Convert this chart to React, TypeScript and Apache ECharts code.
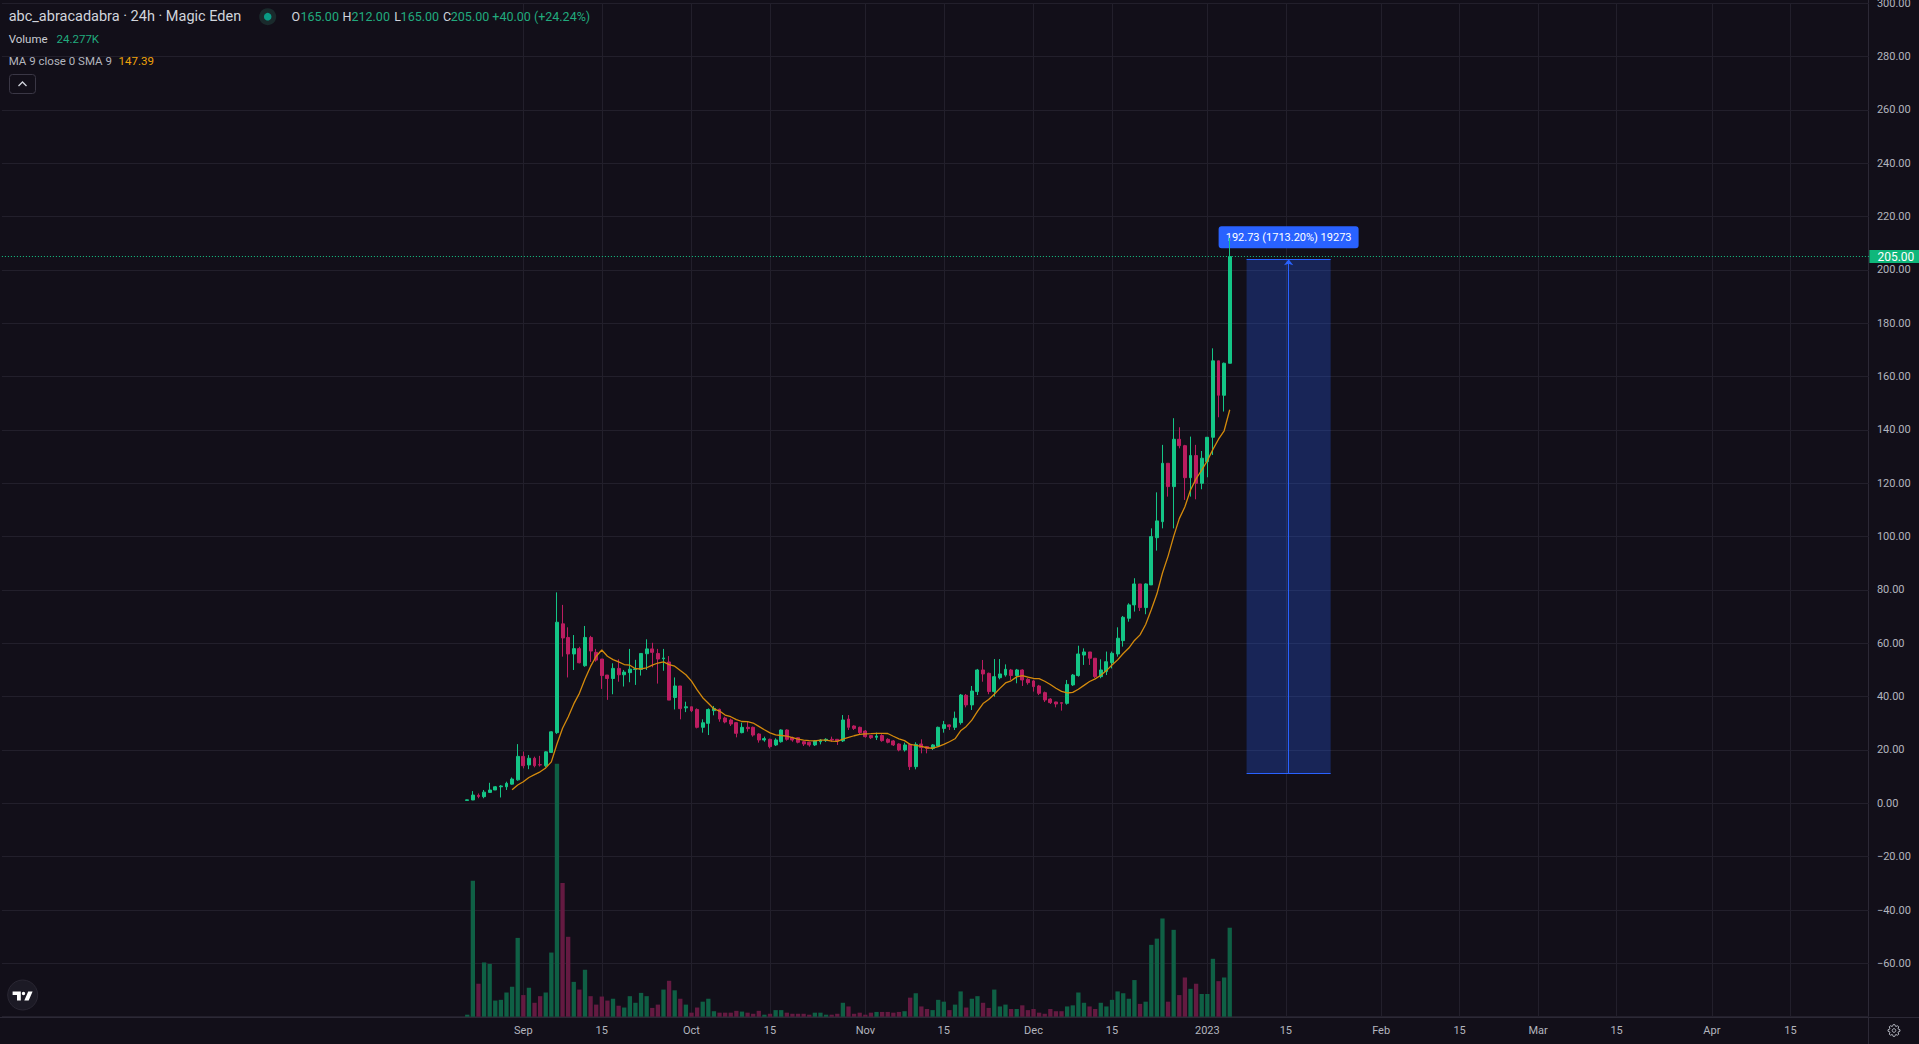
import React, { useEffect, useRef } from "react";
import * as echarts from "echarts";

// ---------- DATA ----------
const firstCandleDate = "2022-08-22";
const axisFirstDate = "2022-05-31";
const axisLastDate = "2023-04-29";

const opens = [
  1.1, 1.25, 3.0, 2.5, 4.1, 5.0, 6.2, 6.2, 7.2, 8.8,
  17.6, 14.4, 16.9, 14.5, 14.1, 19.1, 26.5, 67.3, 62.2, 56.0,
  58.0, 51.6, 62.2, 56.6, 54.1, 48.1, 46.8, 50.6, 48.2, 49.0,
  50.2, 50.2, 56.1, 57.9, 56.2, 54.2, 53.0, 39.7, 44.0, 35.8,
  36.2, 35.2, 28.5, 30.0, 34.75, 35.25, 32.0, 31.25, 30.25, 26.5,
  28.5, 28.5, 26.0, 23.75, 24.0, 21.9, 23.1, 27.5, 24.6, 24.6,
  23.1, 22.9, 21.9, 23.1, 23.5, 24.0, 24.0, 23.4, 31.6, 29.0, 28.5,
  27.1, 25.4, 24.75, 25.4, 24.0, 23.4, 22.25, 20.0, 22.1, 13.75,
  22.25, 21.25, 20.6, 21.5, 28.1, 29.4, 28.5, 30.25, 40.5, 36.9,
  41.9, 50.0, 48.75, 41.9, 47.1, 48.1, 50.0, 47.9, 50.0, 46.5,
  45.9, 44.0, 41.5, 39.1, 38.0, 37.75, 37.5, 44.4, 47.9, 55.6,
  56.75, 54.4, 47.5, 49.4, 52.75, 56.0, 61.0, 69.4, 74.4, 82.25,
  73.4, 81.9, 99.6, 105.6, 127.5, 118.75, 136.5, 134.1, 122.1, 130.4, 120.0,
  128.1, 137.25, 165.9, 153.0, 165.0,
];
const highs = [
  1.4, 4.6, 3.7, 5.0, 7.7, 6.5, 6.8, 8.1, 9.7, 22.2,
  19.4, 18.1, 17.5, 17.8, 19.5, 27.0, 79.1, 74.4, 66.0, 63.1,
  58.7, 66.5, 62.8, 57.9, 54.1, 48.1, 52.5, 54.0, 50.0, 57.9,
  53.8, 56.2, 61.5, 60.2, 57.9, 57.9, 55.2, 47.2, 44.0, 38.1,
  36.2, 35.6, 31.5, 35.6, 36.5, 35.5, 32.5, 31.75, 30.5, 30.25,
  30.6, 28.75, 26.25, 25.0, 24.25, 24.4, 27.75, 27.75, 25.0, 24.75,
  23.4, 23.1, 23.75, 24.1, 24.4, 25.0, 24.1, 33.1, 33.1, 29.25, 28.75,
  27.5, 25.6, 26.5, 25.9, 24.4, 23.75, 22.5, 22.75, 22.5, 22.9,
  24.0, 21.5, 22.25, 28.75, 30.9, 29.6, 34.4, 41.0, 41.0, 44.0,
  50.4, 53.75, 49.0, 54.1, 54.1, 52.1, 50.4, 50.4, 50.25, 46.9,
  46.25, 44.4, 41.9, 39.4, 38.1, 37.9, 46.25, 48.5, 59.1, 58.1,
  56.75, 54.4, 54.0, 56.9, 56.9, 66.0, 70.25, 75.0, 84.4, 82.25,
  82.5, 103.1, 116.6, 134.4, 127.5, 144.4, 141.0, 134.4, 137.5, 134.4, 132.1,
  137.25, 170.6, 165.9, 165.25, 212.0,
];
const lows = [
  1.1, 1.2, 1.9, 1.9, 4.1, 5.0, 2.2, 5.0, 7.0, 8.5,
  13.1, 12.8, 13.5, 13.8, 13.5, 19.0, 26.0, 55.0, 47.2, 50.0,
  52.5, 51.2, 53.0, 53.1, 42.9, 38.8, 40.9, 45.6, 43.8, 45.4,
  44.4, 47.9, 50.0, 51.0, 44.9, 49.7, 38.7, 35.2, 31.5, 34.2,
  34.2, 28.1, 26.5, 25.6, 33.0, 30.6, 30.0, 29.0, 24.75, 26.25,
  26.9, 25.0, 22.75, 23.1, 20.6, 21.5, 22.75, 23.5, 23.1, 22.5,
  21.5, 21.25, 21.5, 22.1, 23.0, 23.1, 21.9, 23.0, 27.5, 27.5, 26.0,
  24.6, 24.1, 23.75, 23.1, 22.5, 21.5, 19.5, 19.4, 12.5, 12.75,
  18.75, 18.75, 20.0, 21.25, 26.5, 27.5, 27.5, 29.5, 36.0, 35.0,
  40.6, 45.6, 40.9, 40.0, 46.5, 47.5, 46.25, 45.0, 44.0, 44.5,
  41.9, 40.6, 38.0, 37.25, 36.0, 34.75, 37.0, 44.0, 47.5, 51.9,
  51.9, 47.0, 46.9, 48.1, 50.6, 55.0, 58.75, 68.1, 71.9, 72.1,
  70.9, 81.9, 94.75, 103.1, 115.0, 103.1, 133.1, 113.75, 115.0, 114.0, 117.75,
  122.25, 130.6, 144.75, 146.9, 165.0,
];
const closes = [
  1.3, 3.1, 2.6, 4.2, 5.0, 6.2, 6.5, 7.5, 9.1, 17.6,
  14.1, 16.9, 14.1, 14.4, 19.3, 26.8, 67.9, 62.0, 56.0, 58.0,
  52.7, 62.2, 57.1, 53.7, 47.9, 46.8, 50.6, 48.2, 49.2, 50.3,
  50.4, 56.2, 57.9, 56.6, 54.1, 54.5, 38.7, 44.0, 35.5, 36.2,
  34.7, 28.5, 30.2, 35.2, 35.6, 31.6, 30.5, 29.75, 26.25, 28.5,
  28.0, 25.6, 23.75, 24.25, 21.25, 23.75, 27.5, 24.0, 23.75, 22.9,
  22.25, 21.9, 23.4, 23.75, 24.0, 23.75, 23.4, 31.25, 28.5, 28.1, 26.5,
  25.0, 24.6, 25.25, 23.5, 22.9, 21.9, 20.0, 21.9, 13.75, 22.1,
  20.9, 20.6, 21.9, 28.5, 29.5, 28.75, 31.9, 40.6, 36.9, 42.1,
  50.0, 48.5, 41.9, 47.5, 48.5, 50.25, 47.9, 50.0, 46.25, 45.25,
  43.75, 41.25, 38.75, 37.75, 37.25, 37.5, 44.6, 48.1, 56.0, 56.75,
  54.4, 47.5, 50.0, 53.1, 56.25, 61.9, 69.75, 74.4, 82.25, 73.4,
  82.25, 100.0, 105.9, 127.5, 118.75, 136.5, 134.1, 122.1, 130.4, 120.0, 129.4,
  137.25, 165.9, 153.0, 165.0, 205.0,
];
// volume in thousands
const volumesK = [
  0.55, 37.1, 9.0, 14.8, 14.4, 4.4, 4.6, 6.6, 8.2, 21.5,
  5.9, 7.9, 3.8, 5.6, 6.6, 17.5, 69.0, 36.5, 21.8, 9.5,
  7.4, 12.8, 5.6, 3.3, 5.5, 4.4, 4.9, 3.0, 2.5, 5.6,
  3.8, 6.5, 5.6, 2.4, 3.3, 7.4, 9.8, 7.2, 4.9, 3.3,
  1.1, 2.5, 4.1, 4.9, 1.5, 1.1, 1.1, 1.1, 1.6, 1.4,
  1.1, 0.8, 1.6, 0.55, 0.8, 1.8, 1.8, 1.1, 0.8, 0.8,
  0.8, 0.55, 1.1, 1.1, 0.55, 0.55, 0.8, 3.8, 2.8, 0.8, 1.1,
  0.55, 1.1, 1.3, 1.3, 1.3, 1.1, 1.3, 1.5, 5.2, 6.4,
  2.8, 2.1, 1.8, 4.6, 4.1, 1.8, 3.3, 6.9, 2.5, 4.9,
  5.6, 3.8, 2.4, 7.4, 2.8, 3.3, 2.1, 2.1, 3.1, 1.8,
  2.1, 1.1, 0.8, 2.1, 1.5, 1.5, 2.8, 3.1, 6.6, 3.8,
  2.8, 2.1, 3.8, 2.8, 4.6, 6.9, 6.4, 4.9, 10.0, 3.5,
  4.1, 19.6, 21.3, 26.8, 4.1, 23.7, 5.9, 10.7, 7.6, 9.0, 6.2,
  6.2, 15.8, 9.7, 10.7, 24.277,
];

const maPeriod = 9;
const priceMin = -80;
const priceMax = 300;
const priceStep = 20;
const volumeAxisMaxK = 276.5;

const monthLabels = ["Jan", "Feb", "Mar", "Apr", "May", "Jun", "Jul", "Aug", "Sep", "Oct", "Nov", "Dec"];

const measureStartDate = "2023-01-08";
const measureEndDate = "2023-01-23";
const measureLow = 11.25;
const measureHigh = 203.98;
const measureText = "192.73 (1713.20%) 19273";

const legendTitle = "abc_abracadabra · 24h · Magic Eden";
const legendOHLC = [
  ["O", "165.00"],
  ["H", "212.00"],
  ["L", "165.00"],
  ["C", "205.00"],
];
const legendChange = "+40.00 (+24.24%)";
const legendVolume = "24.277K";
const legendMAName = "MA 9 close 0 SMA 9";
const legendMAValue = "147.39";
const lastPriceText = "205.00";

// ---------- STYLE ----------
const BG = "#120f19";
const GRID = "#221f2b";
const FRAME = "#2c2936";
const AXIS_TXT = "#b2b5be";
const UP = "#14c586";
const DOWN = "#bb1d60";
const VOL_UP = "#0f6045";
const VOL_DOWN = "#641a41";
const MA_COLOR = "#d48a0c";
const LEG_GREEN = "#21ab7e";
const LEG_ORANGE = "#f0a30a";
const BLUE = "#2962ff";
const FONT = "Roboto";

const TV_PATH =
  "M0 0H8.2V9H4.4V3.4H0Z M10.9 0.2a1.7 1.7 0 1 1 0 3.4a1.7 1.7 0 1 1 0-3.4Z M15.6 0H20L16.1 9H11.7Z";
echarts.graphic.registerShape("tvlogo", echarts.graphic.extendPath(TV_PATH, {}));

const TIP_SYMBOL =
  "path://M3 0H137A3 3 0 0 1 140 3V19A3 3 0 0 1 137 22H3A3 3 0 0 1 0 19V3A3 3 0 0 1 3 0Z";

// ---------- HELPERS ----------
const DAY = 86400000;
function parseDate(s: string) {
  const [y, m, d] = s.split("-").map(Number);
  return Date.UTC(y, m - 1, d);
}
function fmtDate(t: number) {
  return new Date(t).toISOString().slice(0, 10);
}

function buildOption() {
  const cats: string[] = [];
  for (let t = parseDate(axisFirstDate); t <= parseDate(axisLastDate); t += DAY) cats.push(fmtDate(t));
  const startIdx = cats.indexOf(firstCandleDate);
  const n = opens.length;

  const candleData = cats.map((_, i) => {
    const k = i - startIdx;
    if (k >= 0 && k < n) return [opens[k], closes[k], lows[k], highs[k]];
    return ["-", "-", "-", "-"];
  });
  const volData = cats.map((_, i) => {
    const k = i - startIdx;
    if (k >= 0 && k < n)
      return { value: volumesK[k], itemStyle: { color: closes[k] >= opens[k] ? VOL_UP : VOL_DOWN } };
    return "-";
  });
  const maData = cats.map((_, i) => {
    const k = i - startIdx;
    if (k >= maPeriod - 1 && k < n) {
      let s = 0;
      for (let j = k - maPeriod + 1; j <= k; j++) s += closes[j];
      return +(s / maPeriod).toFixed(2);
    }
    return "-";
  });

  const isLabelDay = (index: number, value: string) => {
    if (index < startIdx) return false;
    const d = +value.slice(8, 10);
    return d === 1 || d === 15;
  };
  const labelFor = (value: string) => {
    const m = +value.slice(5, 7);
    const d = +value.slice(8, 10);
    if (d === 15) return "15";
    if (m === 1) return value.slice(0, 4);
    return monthLabels[m - 1];
  };
  const priceFmt = (v: number) => {
    if (v === priceMin) return "";
    return v < 0 ? "\u2212" + Math.abs(v).toFixed(2) : v.toFixed(2);
  };

  const i0 = cats.indexOf(measureStartDate);
  const i1 = cats.indexOf(measureEndDate);
  const mid = (i0 + i1) / 2;
  const lastClose = closes[n - 1];

  const text = (x: number, y: number, t: string, fill: string, size: number) => ({
    type: "text",
    x,
    y,
    silent: true,
    style: { text: t, fill, fontSize: size, fontFamily: FONT, verticalAlign: "middle" },
  });

  const ohlcX = [291.4, 342.4, 394.2, 442.9];
  const ohlcVX = [300.5, 351.5, 400.6, 450.8];
  const elements: any[] = [
    { type: "line", silent: true, shape: { x1: 1868.5, y1: 0, x2: 1868.5, y2: 1044 }, style: { stroke: FRAME, lineWidth: 1 } },
    { type: "line", silent: true, shape: { x1: 0, y1: 1017.5, x2: 1919, y2: 1017.5 }, style: { stroke: FRAME, lineWidth: 1 } },
    text(8.7, 16.7, legendTitle, "#d1d4dc", 14.5),
    { type: "circle", silent: true, shape: { cx: 267.7, cy: 16.7, r: 8.5 }, style: { fill: "#1a2a2c" } },
    { type: "circle", silent: true, shape: { cx: 267.7, cy: 16.7, r: 3.8 }, style: { fill: "#0a9b85" } },
    text(492.3, 16.7, legendChange, LEG_GREEN, 12.5),
    text(8.7, 39.3, "Volume", "#c9cbd2", 11.5),
    text(56.5, 39.3, legendVolume, LEG_GREEN, 11.5),
    text(8.7, 61, legendMAName, "#b2b5be", 11.5),
    text(118.6, 61, legendMAValue, LEG_ORANGE, 11.5),
    { type: "rect", silent: true, shape: { x: 9.5, y: 74.5, width: 26, height: 19, r: 3 }, style: { fill: "none", stroke: "#3a3745", lineWidth: 1 } },
    { type: "polyline", silent: true, shape: { points: [[18.5, 86], [22.5, 82], [26.5, 86]] }, style: { fill: "none", stroke: "#d1d4dc", lineWidth: 1.3 } },
    { type: "circle", silent: true, shape: { cx: 22.7, cy: 995, r: 15 }, style: { fill: "#1c1a25", stroke: "#2a2733", lineWidth: 1 } },
    { type: "tvlogo", silent: true, x: 12.6, y: 991.6, style: { fill: "#ffffff" } },
  ];
  legendOHLC.forEach(([l, v], i) => {
    elements.push(text(ohlcX[i], 16.7, l, "#d1d4dc", 12.5));
    elements.push(text(ohlcVX[i], 16.7, v, LEG_GREEN, 12.5));
  });
  // settings gear
  const gx = 1894, gy = 1030.5;
  const gearPts: number[][] = [];
  for (let k = 0; k < 8; k++) {
    const a = (k * Math.PI) / 4;
    const d1 = (21 * Math.PI) / 180, d2 = (7 * Math.PI) / 180;
    gearPts.push([gx + 4.4 * Math.cos(a - d1), gy + 4.4 * Math.sin(a - d1)]);
    gearPts.push([gx + 6 * Math.cos(a - d2), gy + 6 * Math.sin(a - d2)]);
    gearPts.push([gx + 6 * Math.cos(a + d2), gy + 6 * Math.sin(a + d2)]);
    gearPts.push([gx + 4.4 * Math.cos(a + d1), gy + 4.4 * Math.sin(a + d1)]);
  }
  elements.push({ type: "polygon", silent: true, shape: { points: gearPts }, style: { fill: "none", stroke: AXIS_TXT, lineWidth: 1 } });
  elements.push({ type: "circle", silent: true, shape: { cx: gx, cy: gy, r: 1.8 }, style: { fill: "none", stroke: AXIS_TXT, lineWidth: 1 } });

  return {
    animation: false,
    backgroundColor: BG,
    textStyle: { fontFamily: FONT },
    grid: { left: 1.9, right: 50.1, top: 3.2, bottom: 27.3, containLabel: false, outerBoundsMode: "none" },
    xAxis: [
      {
        type: "category",
        data: cats,
        boundaryGap: false,
        axisLine: { show: false },
        axisTick: { show: false },
        axisLabel: { interval: isLabelDay, formatter: labelFor, color: AXIS_TXT, fontSize: 11, fontFamily: FONT, margin: 8 },
        splitLine: { show: true, interval: isLabelDay, lineStyle: { color: GRID, width: 1 } },
      },
      { type: "value", min: 0, max: cats.length - 1, show: false, splitLine: { show: false } },
    ],
    yAxis: [
      {
        type: "value",
        position: "right",
        min: priceMin,
        max: priceMax,
        interval: priceStep,
        axisLine: { show: false },
        axisTick: { show: false },
        axisLabel: { formatter: priceFmt, color: AXIS_TXT, fontSize: 11, fontFamily: FONT, margin: 8 },
        splitLine: { show: true, lineStyle: { color: GRID, width: 1 } },
      },
      { type: "value", min: 0, max: volumeAxisMaxK, show: false, splitLine: { show: false } },
    ],
    series: [
      {
        type: "bar",
        name: "Volume",
        xAxisIndex: 0,
        yAxisIndex: 1,
        data: volData,
        barWidth: 4.3,
        z: 1,
        silent: true,
      },
      {
        type: "line",
        name: "measure",
        xAxisIndex: 1,
        yAxisIndex: 0,
        data: [[mid, measureHigh]],
        symbol: "none",
        showSymbol: false,
        lineStyle: { opacity: 0 },
        silent: true,
        z: 3,
        markArea: {
          silent: true,
          itemStyle: { color: "rgba(41,98,255,0.27)", borderWidth: 0 },
          data: [[{ coord: [i0, measureLow] }, { coord: [i1, measureHigh] }]],
        },
        markLine: {
          silent: true,
          symbol: ["none", "none"],
          label: { show: false },
          lineStyle: { color: BLUE, width: 1, type: "solid", opacity: 1 },
          emphasis: { disabled: true },
          data: [
            [{ coord: [mid, measureLow] }, { coord: [mid, measureHigh], symbol: "arrow", symbolSize: [7, 6] }],
            [{ coord: [i0, measureHigh] }, { coord: [i1, measureHigh] }],
            [{ coord: [i0, measureLow] }, { coord: [i1, measureLow] }],
          ],
        },
        markPoint: {
          silent: true,
          data: [
            {
              coord: [mid, measureHigh],
              symbol: TIP_SYMBOL,
              symbolKeepAspect: false,
              symbolSize: [140, 22],
              symbolOffset: [0, -22],
              itemStyle: { color: BLUE },
              label: { show: true, position: "inside", formatter: measureText, color: "#ffffff", fontSize: 11, fontFamily: FONT },
            },
          ],
        },
      },
      {
        type: "candlestick",
        name: "price",
        xAxisIndex: 0,
        yAxisIndex: 0,
        data: candleData,
        barWidth: 3.4,
        z: 6,
        silent: true,
        itemStyle: { color: UP, color0: DOWN, borderColor: UP, borderColor0: DOWN, borderWidth: 1 },
        markLine: {
          silent: true,
          symbol: ["none", "none"],
          emphasis: { disabled: true },
          lineStyle: { color: UP, type: [1, 2], width: 1 },
          label: {
            show: true,
            position: "end",
            distance: 0.5,
            formatter: lastPriceText,
            color: "#ffffff",
            backgroundColor: "#0fb77b",
            padding: [1, 7, 0, 8],
            fontSize: 12,
            lineHeight: 12,
            fontFamily: FONT,
          },
          data: [{ yAxis: lastClose }],
        },
      },
      {
        type: "line",
        name: "MA 9",
        xAxisIndex: 0,
        yAxisIndex: 0,
        data: maData,
        symbol: "none",
        showSymbol: false,
        silent: true,
        z: 7,
        lineStyle: { color: MA_COLOR, width: 1.3 },
      },
    ],
    graphic: { elements },
  };
}

export default function App() {
  const ref = useRef<HTMLDivElement>(null);
  useEffect(() => {
    if (!ref.current) return;
    const chart = echarts.init(ref.current, undefined, { renderer: "svg" });
    chart.setOption(buildOption() as any);
    return () => chart.dispose();
  }, []);
  return (
    <div
      ref={ref}
      style={{ position: "fixed", left: 0, top: 0, width: 1919, height: 1044, background: BG }}
    />
  );
}
